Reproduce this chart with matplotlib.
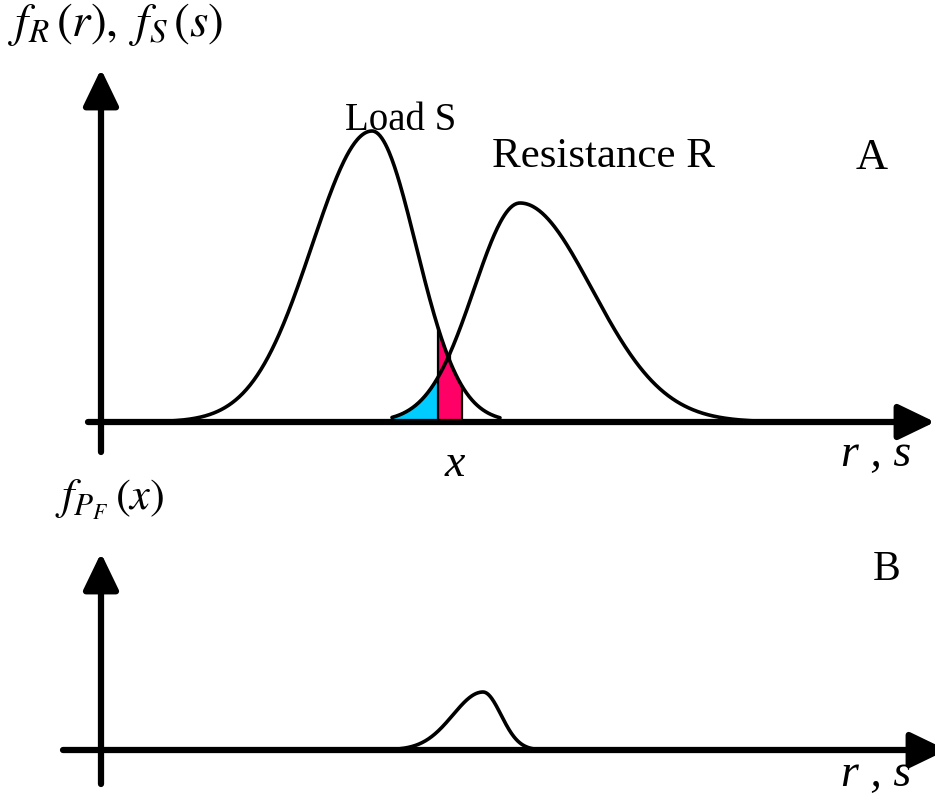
import numpy as np
import matplotlib
matplotlib.use("Agg")
import matplotlib.pyplot as plt

plt.rcParams["mathtext.fontset"] = "stix"
SERIF = ["Liberation Serif", "DejaVu Serif"]

# Density curves (split-normal shapes): horizontal position of the mode,
# peak height, left and right spreads, and the span over which each is drawn.
curve_names = ["Load S", "Resistance R", "f_PF"]
curve_mode = [372, 520, 483]
curve_peak = [291, 219, 58]
curve_sigma_left = [60, 46, 30]
curve_sigma_right = [44, 72, 18]
curve_start = [140, 392, 375]
curve_end = [500, 800, 537]

# Shaded areas: region under R left of the checked point, and the slice under S at x
blue_span = [392, 450]
pink_span = [438, 462]

W, H = 935, 796
fig = plt.figure(figsize=(W / 100, H / 100), dpi=100)

# Upper panel: rows 0..480, baseline at row 422; lower panel: rows 480..796, baseline at row 750
top = fig.add_axes([0, 1 - 480 / H, 1, 480 / H])
top.set_xlim(0, W)
top.set_ylim(422 - 480, 422)
bot = fig.add_axes([0, 0, 1, (H - 480) / H])
bot.set_xlim(0, W)
bot.set_ylim(750 - H, 750 - 480)
for ax in (top, bot):
    ax.axis("off")


def split_normal(x, mode, peak, sl, sr):
    s = np.where(x < mode, sl, sr)
    return peak * np.exp(-0.5 * ((x - mode) / s) ** 2)


def curve(i, lo=None, hi=None, n=400):
    lo = curve_start[i] if lo is None else lo
    hi = curve_end[i] if hi is None else hi
    x = np.linspace(lo, hi, n)
    return x, split_normal(x, curve_mode[i], curve_peak[i],
                           curve_sigma_left[i], curve_sigma_right[i])


def axis_arrow(ax, start, tip):
    ax.annotate("", xy=tip, xytext=start,
                arrowprops=dict(arrowstyle="-|>,head_length=1.12,head_width=0.54",
                                mutation_scale=20, lw=4.5, color="black",
                                shrinkA=0, shrinkB=0),
                annotation_clip=False)


# Shaded areas (drawn below the curves)
xb, yb = curve(1, *blue_span)
top.fill(np.r_[xb, xb[-1], xb[0]], np.r_[yb, 0, 0],
         facecolor="#00CCFF", edgecolor="black", lw=1.6, zorder=2)
xp, yp = curve(0, *pink_span)
top.fill(np.r_[xp, xp[-1], xp[0]], np.r_[yp, 0, 0],
         facecolor="#FF0066", edgecolor="black", lw=1.6, zorder=3)

# Upper panel curves
for i in (0, 1):
    x, y = curve(i)
    top.plot(x, y, color="black", lw=2.6, zorder=4, solid_capstyle="round")

# Lower panel curve
x, y = curve(2)
bot.plot(x, y, color="black", lw=2.6, zorder=4, solid_capstyle="round")

# Axes arrows
axis_arrow(top, (101, -30), (101, 353))
axis_arrow(top, (88, 0), (935, 0))
axis_arrow(bot, (101, -34), (101, 197))
axis_arrow(bot, (63, 0), (947, 0))

# Labels in the upper panel
top.text(8, 422 - 25, r"$f_R\,(r),\ f_S\,(s)$", fontsize=34, ha="left", va="center")
top.text(401, 422 - 121, "Load S", family=SERIF, fontsize=28, ha="center", va="center")
top.text(603, 422 - 157, "Resistance R", family=SERIF, fontsize=31, ha="center", va="center")
top.text(872, 422 - 158, "A", family=SERIF, fontsize=32, ha="center", va="center")
top.text(876, 422 - 455, "r , s", family=SERIF, style="italic", fontsize=33,
         ha="center", va="center")
top.text(455, 422 - 465, "x", family=SERIF, style="italic", fontsize=33,
         ha="center", va="center")

# Labels in the lower panel
bot.text(55, 750 - 500, r"$f_{P_F}\,(x)$", fontsize=32, ha="left", va="center")
bot.text(887, 750 - 570, "B", family=SERIF, fontsize=30, ha="center", va="center")
bot.text(876, 750 - 775, "r , s", family=SERIF, style="italic", fontsize=33,
         ha="center", va="center")

fig.savefig("out.png", dpi=100)
